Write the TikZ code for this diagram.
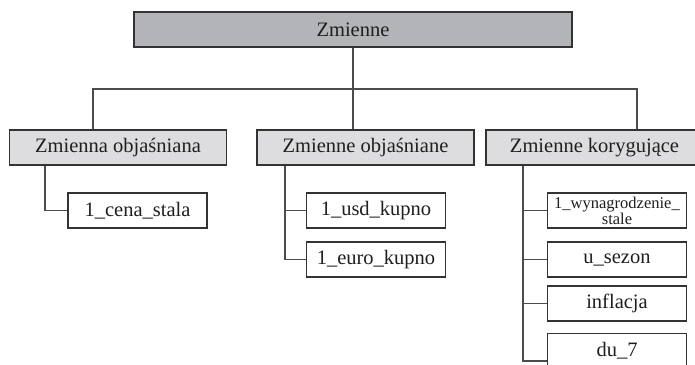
\documentclass[tikz,border=0pt]{standalone}
\usepackage{fontspec}
\setmainfont{Liberation Serif}
\begin{document}
\begin{tikzpicture}[x=1pt,y=-1pt,
  box/.style={draw=black!80,line width=1.1pt,inner sep=0pt,anchor=center,
    font=\fontsize{20.5}{24}\selectfont,text=black!88},
  rootbox/.style={box,fill=rootgray,minimum width=438pt,minimum height=35pt},
  groupbox/.style={box,fill=groupgray,minimum width=217pt,minimum height=35pt},
  leafbox/.style={box,fill=white,minimum width=139pt,minimum height=35pt},
  link/.style={draw=black!70,line width=1.1pt}]
\definecolor{rootgray}{RGB}{179,180,184}
\definecolor{groupgray}{RGB}{221,221,223}
\clip (0,0) rectangle (695,364);
\fill[white] (0,0) rectangle (695,364);

% root
\node[rootbox] (root) at (353,29.5) {Zmienne};

% groups
\node[groupbox] (g1) at (118,147.5) {Zmienna objaśniana};
\node[groupbox] (g2) at (365.5,147.5) {Zmienne objaśniane};
\node[groupbox] (g3) at (594.5,147.5) {Zmienne korygujące};

% leaves
\node[leafbox] (c1) at (137.5,210.5) {1\_cena\_stala};
\node[leafbox] (u1) at (376,210.5) {1\_usd\_kupno};
\node[leafbox] (u2) at (376,259.5) {1\_euro\_kupno};
\node[leafbox,font=\fontsize{16.5}{14.5}\selectfont,align=center] (k1) at (617,210.5) {1\_wynagrodzenie\_\\stale};
\node[leafbox] (k2) at (617,259.5) {u\_sezon};
\node[leafbox] (k3) at (617,303.5) {inflacja};
\node[leafbox] (k4) at (617,351) {du\_7};

% tree connectors
\coordinate (bus) at (353,89);
\coordinate (busL) at (93,89);
\coordinate (busR) at (637,89);
\draw[link] (root.south -| bus) -- (g2.north -| bus);
\draw[link] (g1.north -| busL) -- (busL) -- (busR) -- (g3.north -| busR);

\coordinate (s1) at (45,0);
\coordinate (s2) at (285,0);
\coordinate (s3) at (523,0);
\coordinate (d7) at (523,361);
\draw[link] (g1.south -| s1) |- (c1.west);
\draw[link] (g2.south -| s2) |- (u2.west);
\draw[link] (u1.west) -- (u1.west -| s2);
\draw[link] (g3.south -| s3) |- (k4.west |- d7);
\draw[link] (k1.west) -- (k1.west -| s3);
\draw[link] (k2.west) -- (k2.west -| s3);
\draw[link] (k3.west) -- (k3.west -| s3);
\end{tikzpicture}
\end{document}
